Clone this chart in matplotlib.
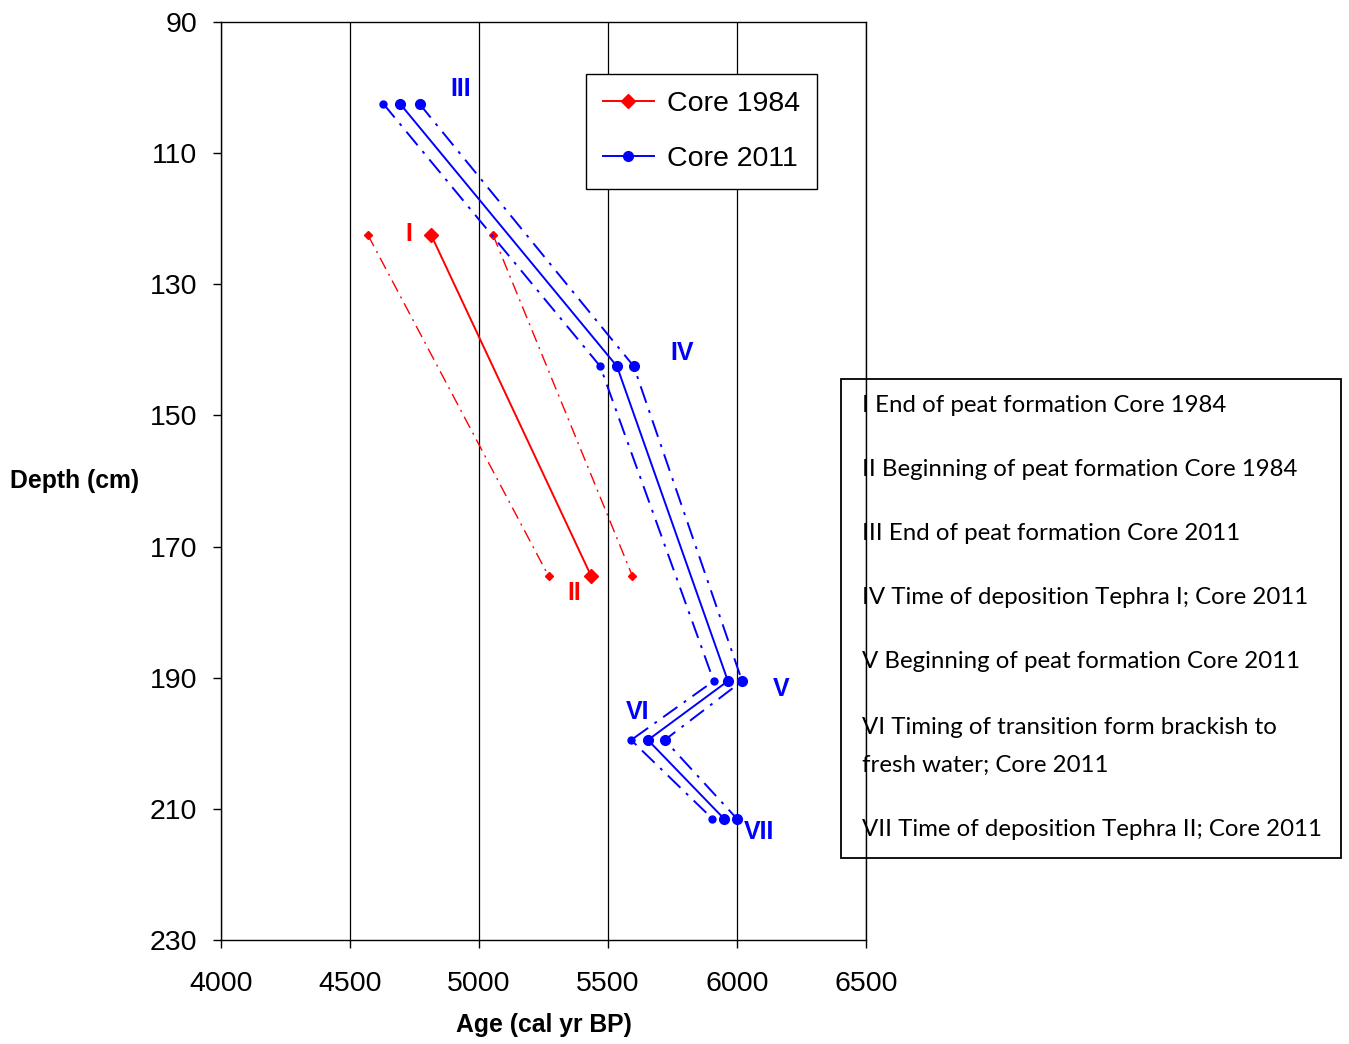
import matplotlib.pyplot as plt
from matplotlib.patches import Rectangle

# dados
depth_1984 = [122.5, 174.5]
age_1984 = [4815, 5435]
age_1984_min = [4570, 5270]
age_1984_max = [5055, 5595]

depth_2011 = [102.5, 142.5, 190.5, 199.5, 211.5]
age_2011 = [4695, 5535, 5965, 5655, 5950]
age_2011_min = [4630, 5470, 5910, 5590, 5905]
age_2011_max = [4770, 5600, 6020, 5720, 6000]

x_ticks = [4000, 4500, 5000, 5500, 6000, 6500]
y_ticks = [90, 110, 130, 150, 170, 190, 210, 230]

labels_1984 = [('I', 4729, 122.3), ('II', 5368, 177.1)]
labels_2011 = [('III', 4930, 100.2), ('IV', 5787, 140.5), ('V', 6171, 191.7),
               ('VI', 5616, 195.2), ('VII', 6085, 213.5)]

notes = ['I End of peat formation Core 1984',
         'II Beginning of peat formation Core 1984',
         'III End of peat formation Core 2011',
         'IV Time of deposition Tephra I; Core 2011',
         'V Beginning of peat formation Core 2011',
         'VI Timing of transition form brackish to',
         'fresh water; Core 2011',
         'VII Time of deposition Tephra II; Core 2011']

plt.rcParams['font.family'] = ['Liberation Sans', 'DejaVu Sans']

fig = plt.figure(figsize=(13.49, 10.44), dpi=100)
ax = fig.add_axes([0.1638, 0.0996, 0.4781, 0.8793])

# linhas de erro
dd = (0, (9, 4, 1.5, 4))
ax.plot(age_1984_min, depth_1984, color='red', lw=1, ls=dd, marker='D', ms=4)
ax.plot(age_1984_max, depth_1984, color='red', lw=1, ls=dd, marker='D', ms=4)
ax.plot(age_2011_min, depth_2011, color='blue', lw=1.4, ls=dd, marker='o', ms=5)
ax.plot(age_2011_max, depth_2011, color='blue', lw=1.4, ls=dd, marker='o', ms=7)

# linhas principais
ax.plot(age_1984, depth_1984, color='red', lw=1.4, marker='D', ms=7, label='Core 1984')
ax.plot(age_2011, depth_2011, color='blue', lw=1.4, marker='o', ms=7, label='Core 2011')

for t, x, y in labels_1984:
    ax.text(x, y, t, color='red', fontsize=18, fontweight='bold', ha='center', va='center')
for t, x, y in labels_2011:
    ax.text(x, y, t, color='blue', fontsize=18, fontweight='bold', ha='center', va='center')

ax.set_xlim(4000, 6500)
ax.set_ylim(230, 90)
ax.set_xticks(x_ticks)
ax.set_yticks(y_ticks)
ax.tick_params(labelsize=20.5, direction='out', length=6, width=1)
ax.tick_params(axis='x', pad=16)
ax.tick_params(axis='y', pad=11)
ax.grid(axis='x', color='black', lw=0.9)
ax.set_axisbelow(True)
for s in ax.spines.values():
    s.set_linewidth(1)

ax.set_xlabel('Age (cal yr BP)', fontsize=17.8, fontweight='bold', labelpad=12)
fig.text(0.0556, 0.539, 'Depth (cm)', fontsize=17.8, fontweight='bold', ha='center', va='center')

leg = ax.legend(loc='upper right', bbox_to_anchor=(0.924, 0.943), fontsize=20.5,
                fancybox=False, framealpha=1, edgecolor='black', handlelength=1.8,
                labelspacing=1.0, borderpad=0.6, handletextpad=0.45, borderaxespad=0)
leg.get_frame().set_linewidth(1)

# caixa de notas
fig.patches.append(Rectangle((841 / 1349, 1 - 858 / 1044), 500 / 1349, 479 / 1044,
                             transform=fig.transFigure, fill=False, ec='black', lw=1.3))
ys = [406, 470, 534, 598, 662, 727, 765, 829]
for t, y in zip(notes, ys):
    fig.text(862 / 1349, 1 - y / 1044, t, fontsize=17.3, family='Lato', va='center')

plt.savefig('out.png', dpi=100)
